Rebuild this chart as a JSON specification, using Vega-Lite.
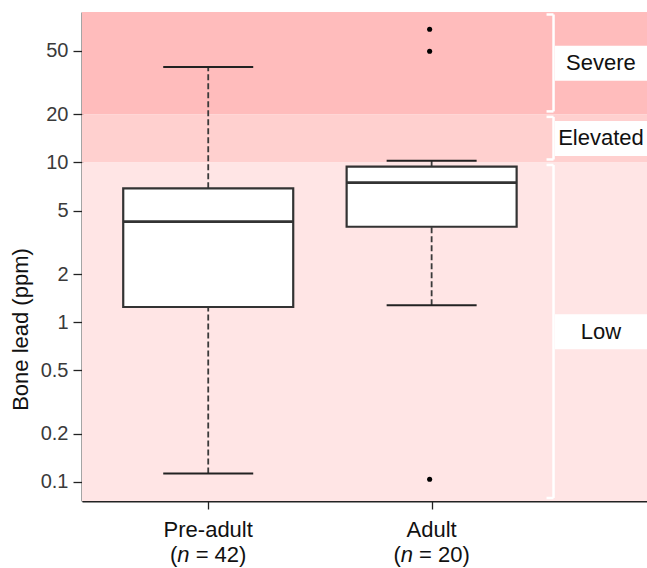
{
  "$schema": "https://vega.github.io/schema/vega-lite/v6.json",
  "width": 565,
  "height": 489,
  "autosize": {"type": "none"},
  "padding": {"left": 82, "top": 12, "right": 0, "bottom": 67},
  "background": "white",
  "config": {
    "view": {"stroke": null},
    "font": "Liberation Sans",
    "axis": {"grid": false, "domainColor": "#222", "domainWidth": 1.8, "tickColor": "#222", "tickWidth": 1.3}
  },
  "datasets": {
    "bands": [
      {"band": "Severe", "lo": 20, "hi": 87.5},
      {"band": "Elevated", "lo": 10, "hi": 20},
      {"band": "Low", "lo": 0.076, "hi": 10}
    ],
    "groups": [
      {"group": "Pre-adult", "n": 42, "pos": 1, "lower": 0.113, "q1": 1.245, "median": 4.26, "q3": 6.89, "upper": 39.6},
      {"group": "Adult", "n": 20, "pos": 2, "lower": 1.276, "q1": 3.96, "median": 7.47, "q3": 9.41, "upper": 10.26}
    ],
    "outliers": [
      {"group": "Adult", "pos": 2, "value": 68.2},
      {"group": "Adult", "pos": 2, "value": 49.7},
      {"group": "Adult", "pos": 2, "value": 0.104}
    ]
  },
  "layer": [
    {
      "data": {"name": "bands"},
      "mark": {"type": "rect"},
      "encoding": {
        "x": {"datum": 0.435, "type": "quantitative",
          "scale": {"domain": [0.435, 2.964], "nice": false, "zero": false},
          "axis": {"values": [1, 2], "labels": false, "title": null, "tickSize": 8}},
        "x2": {"datum": 2.964},
        "y": {"field": "hi", "type": "quantitative",
          "scale": {"type": "log", "domain": [0.076, 87.5], "nice": false},
          "axis": {"values": [0.1, 0.2, 0.5, 1, 2, 5, 10, 20, 50], "format": "~g",
            "title": "Bone lead (ppm)", "titleFontSize": 22, "titleFontWeight": "normal", "titleColor": "#111",
            "titleAngle": -90, "titleAlign": "center", "titleBaseline": "alphabetic", "titleX": -55, "titleY": 317,
            "labelFontSize": 20, "labelColor": "#3a3a3a", "tickSize": 9, "labelPadding": 5}},
        "y2": {"field": "lo"},
        "fill": {"field": "band", "type": "nominal",
          "scale": {"domain": ["Severe", "Elevated", "Low"], "range": ["#FFBCBC", "#FFD0CF", "#FFE5E5"]},
          "legend": null}
      }
    },
    {
      "data": {"name": "bands"},
      "mark": {"type": "rule", "color": "white", "strokeWidth": 2.5, "yOffset": 2.5, "y2Offset": -3},
      "encoding": {
        "x": {"datum": 2.5456, "type": "quantitative"},
        "y": {"field": "hi", "type": "quantitative"},
        "y2": {"field": "lo"}
      }
    },
    {
      "data": {"name": "bands"},
      "mark": {"type": "rule", "color": "white", "strokeWidth": 2.5, "yOffset": 2.5, "xOffset": -7},
      "encoding": {
        "x": {"datum": 2.5456, "type": "quantitative"},
        "x2": {"datum": 2.5456},
        "y": {"field": "hi", "type": "quantitative"}
      }
    },
    {
      "data": {"name": "bands"},
      "mark": {"type": "rule", "color": "white", "strokeWidth": 2.5, "yOffset": -3, "xOffset": -7},
      "encoding": {
        "x": {"datum": 2.5456, "type": "quantitative"},
        "x2": {"datum": 2.5456},
        "y": {"field": "lo", "type": "quantitative"}
      }
    },
    {
      "data": {"name": "bands"},
      "transform": [{"calculate": "sqrt(datum.lo * datum.hi)", "as": "mid"}],
      "mark": {"type": "tick", "orient": "horizontal", "color": "white", "opacity": 1, "thickness": 35, "size": 94},
      "encoding": {
        "x": {"datum": 2.762, "type": "quantitative"},
        "y": {"field": "mid", "type": "quantitative"}
      }
    },
    {
      "data": {"name": "bands"},
      "transform": [{"calculate": "sqrt(datum.lo * datum.hi)", "as": "mid"}],
      "mark": {"type": "text", "fontSize": 22, "color": "#111", "align": "center", "baseline": "middle"},
      "encoding": {
        "x": {"datum": 2.758, "type": "quantitative"},
        "y": {"field": "mid", "type": "quantitative"},
        "text": {"field": "band"}
      }
    },
    {
      "data": {"name": "groups"},
      "mark": {"type": "rule", "color": "#3a3a3a", "strokeWidth": 1.8, "strokeDash": [6, 3]},
      "encoding": {
        "x": {"field": "pos", "type": "quantitative"},
        "y": {"field": "q3", "type": "quantitative"},
        "y2": {"field": "upper"}
      }
    },
    {
      "data": {"name": "groups"},
      "mark": {"type": "rule", "color": "#3a3a3a", "strokeWidth": 1.8, "strokeDash": [6, 3]},
      "encoding": {
        "x": {"field": "pos", "type": "quantitative"},
        "y": {"field": "lower", "type": "quantitative"},
        "y2": {"field": "q1"}
      }
    },
    {
      "data": {"name": "groups"},
      "mark": {"type": "rule", "color": "#222", "strokeWidth": 2, "xOffset": -45, "x2Offset": 45},
      "encoding": {
        "x": {"field": "pos", "type": "quantitative"},
        "x2": {"field": "pos"},
        "y": {"field": "upper", "type": "quantitative"}
      }
    },
    {
      "data": {"name": "groups"},
      "mark": {"type": "rule", "color": "#222", "strokeWidth": 2, "xOffset": -45, "x2Offset": 45},
      "encoding": {
        "x": {"field": "pos", "type": "quantitative"},
        "x2": {"field": "pos"},
        "y": {"field": "lower", "type": "quantitative"}
      }
    },
    {
      "data": {"name": "groups"},
      "mark": {"type": "rect", "fill": "white", "stroke": "#333", "strokeWidth": 2.2, "xOffset": -85, "x2Offset": 85},
      "encoding": {
        "x": {"field": "pos", "type": "quantitative"},
        "x2": {"field": "pos"},
        "y": {"field": "q3", "type": "quantitative"},
        "y2": {"field": "q1"}
      }
    },
    {
      "data": {"name": "groups"},
      "mark": {"type": "rule", "color": "#333", "strokeWidth": 2.8, "xOffset": -85, "x2Offset": 85},
      "encoding": {
        "x": {"field": "pos", "type": "quantitative"},
        "x2": {"field": "pos"},
        "y": {"field": "median", "type": "quantitative"}
      }
    },
    {
      "data": {"name": "outliers"},
      "mark": {"type": "circle", "color": "black", "opacity": 1, "size": 26, "xOffset": -2},
      "encoding": {
        "x": {"field": "pos", "type": "quantitative"},
        "y": {"field": "value", "type": "quantitative"}
      }
    },
    {
      "data": {"name": "groups"},
      "mark": {"type": "text", "fontSize": 22, "color": "#111", "align": "center", "baseline": "alphabetic", "dy": 36},
      "encoding": {
        "x": {"field": "pos", "type": "quantitative"},
        "y": {"datum": 0.076, "type": "quantitative"},
        "text": {"field": "group"}
      }
    },
    {
      "data": {"name": "groups"},
      "mark": {"type": "text", "fontSize": 22, "color": "#111", "align": "right", "baseline": "alphabetic", "dy": 61, "dx": -30.9},
      "encoding": {
        "x": {"field": "pos", "type": "quantitative"},
        "y": {"datum": 0.076, "type": "quantitative"},
        "text": {"value": "("}
      }
    },
    {
      "data": {"name": "groups"},
      "mark": {"type": "text", "fontSize": 22, "fontStyle": "italic", "color": "#111", "align": "center", "baseline": "alphabetic", "dy": 61, "dx": -24.8},
      "encoding": {
        "x": {"field": "pos", "type": "quantitative"},
        "y": {"datum": 0.076, "type": "quantitative"},
        "text": {"value": "n"}
      }
    },
    {
      "data": {"name": "groups"},
      "transform": [{"calculate": "'= ' + datum.n + ')'", "as": "ntext"}],
      "mark": {"type": "text", "fontSize": 22, "color": "#111", "align": "left", "baseline": "alphabetic", "dy": 61, "dx": -12.6},
      "encoding": {
        "x": {"field": "pos", "type": "quantitative"},
        "y": {"datum": 0.076, "type": "quantitative"},
        "text": {"field": "ntext"}
      }
    }
  ]
}
